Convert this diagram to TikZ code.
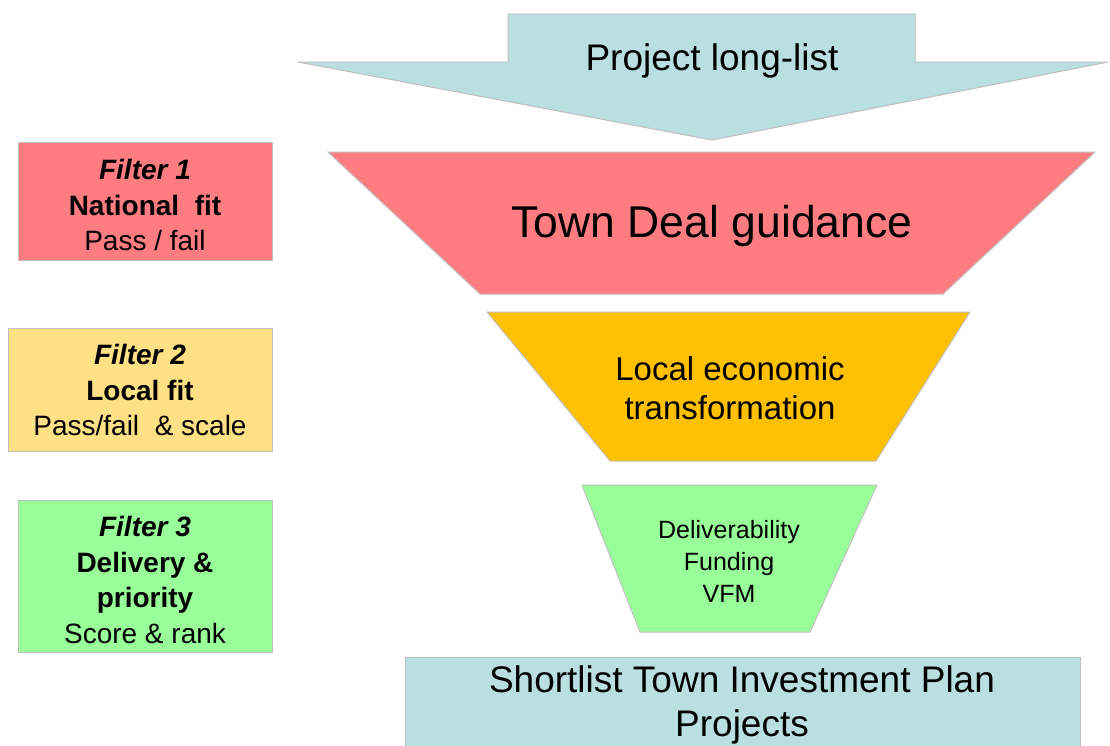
\documentclass[tikz,border=0pt]{standalone}
\usepackage{fontspec}
\setmainfont{Liberation Sans}
\usetikzlibrary{positioning}

\definecolor{listblue}{HTML}{B9DFE1}
\definecolor{natred}{HTML}{FF7C80}
\definecolor{localamber}{HTML}{FFC000}
\definecolor{localyellow}{HTML}{FFE085}
\definecolor{delivgreen}{HTML}{99FF99}
\definecolor{edgegrey}{HTML}{BFBFBF}

\tikzset{
  stage/.style={draw=edgegrey,line width=1pt,line join=miter},
  filterbox/.style={draw=edgegrey,line width=1pt},
  filtertext/.style={align=center,inner sep=0pt,font=\fontsize{28}{35.5}\selectfont},
}

\begin{document}
\begin{tikzpicture}[x=1pt,y=-1pt,line join=round]
  \useasboundingbox (0,0) rectangle (1110,745);

  % long-list arrow feeding the funnel
  \filldraw[stage,fill=listblue] (508,14) -- (915,14) -- (915,62) -- (1108,62) -- (712,140) -- (298,62) -- (508,62) -- cycle;
  \node[font=\fontsize{37}{44}\selectfont] (longlist) at (712,61) {Project long-list};

  % the three funnel stages
  \filldraw[stage,fill=natred] (328,152) -- (1095,152) -- (943,294) -- (480,294) -- cycle;
  \node[font=\fontsize{44.5}{52}\selectfont] (guidance) at (712,226) {Town Deal guidance};

  \filldraw[stage,fill=localamber] (487,312) -- (970,312) -- (876,461) -- (610,461) -- cycle;
  \node[align=center,font=\fontsize{33}{39}\selectfont] (transform) at (730,388) {Local economic\\transformation};

  \filldraw[stage,fill=delivgreen] (582,485) -- (877,485) -- (810,632) -- (640,632) -- cycle;
  \node[align=center,font=\fontsize{25}{32}\selectfont] (deliver) at (729,561) {Deliverability\\Funding\\VFM};

  % shortlist at the bottom
  \filldraw[stage,fill=listblue] (405,657) rectangle (1080,780);
  \node[align=center,font=\fontsize{37}{44}\selectfont] (shortlist) at (742,705) {Shortlist Town Investment Plan\\Projects};

  % filter legend on the left
  \filldraw[filterbox,fill=natred] (18,142) rectangle (272,260);
  \node[filtertext] (filter1) at (145,205) {\textbf{\textit{Filter 1}}\\\textbf{National\ \ fit}\\Pass / fail};

  \filldraw[filterbox,fill=localyellow] (8,328) rectangle (272,451);
  \node[filtertext] (filter2) at (140,390) {\textbf{\textit{Filter 2}}\\\textbf{Local fit}\\Pass/fail\ \ \& scale};

  \filldraw[filterbox,fill=delivgreen] (18,500) rectangle (272,652);
  \node[filtertext] (filter3) at (145,580) {\textbf{\textit{Filter 3}}\\\textbf{Delivery \&}\\\textbf{priority}\\Score \& rank};
\end{tikzpicture}
\end{document}
